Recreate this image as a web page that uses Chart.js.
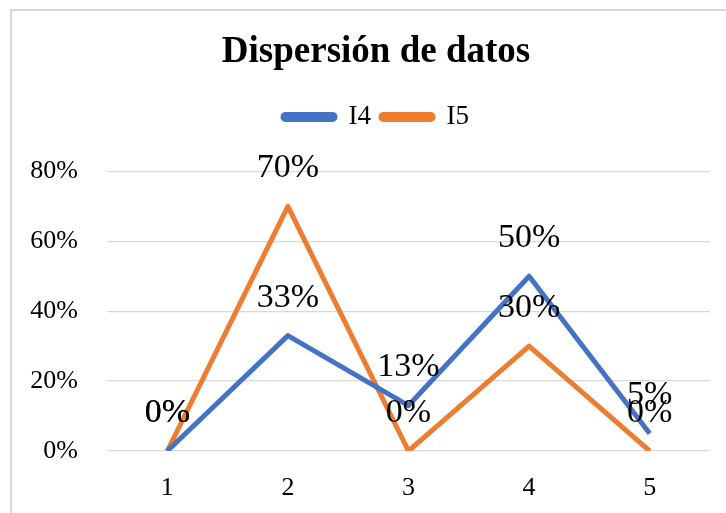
<!DOCTYPE html>
<html>
<head>
<meta charset="utf-8">
<script src="https://cdn.jsdelivr.net/npm/chart.js@4.4.1/dist/chart.umd.min.js"></script>
<style>
  html, body { margin: 0; padding: 0; background: #fff; }
  #wrap { position: relative; width: 726px; height: 513px; overflow: hidden; }
  #frame { position: absolute; left: 10px; top: 9px; width: 800px; height: 600px;
           border-left: 2px solid #d9d9d9; border-top: 2px solid #d9d9d9; box-sizing: border-box; }
  canvas { position: absolute; left: 10px; top: 0; }
</style>
</head>
<body>
<div id="wrap">
  <div id="frame"></div>
  <canvas id="c" width="732" height="513"></canvas>
</div>
<script>
const categories = ['1', '2', '3', '4', '5'];
const seriesI4 = [0, 0.33, 0.13, 0.50, 0.05];
const seriesI5 = [0, 0.70, 0, 0.30, 0];
const yTicks = [0, 0.2, 0.4, 0.6, 0.8];

const SERIF = '"Liberation Serif", "Times New Roman", serif';
const pct = v => Math.round(v * 100) + '%';

// Percentage labels drawn above each point
const valueLabels = {
  id: 'valueLabels',
  afterDatasetsDraw(chart) {
    const ctx = chart.ctx;
    ctx.save();
    ctx.font = '34px ' + SERIF;
    ctx.fillStyle = '#000';
    ctx.textAlign = 'center';
    ctx.textBaseline = 'middle';
    chart.data.datasets.forEach((ds, i) => {
      const meta = chart.getDatasetMeta(i);
      meta.data.forEach((pt, j) => {
        ctx.fillText(pct(ds.data[j]), pt.x, pt.y - 38);
      });
    });
    ctx.restore();
  }
};

new Chart(document.getElementById('c'), {
  type: 'line',
  data: {
    labels: categories,
    datasets: [
      { label: 'I4', data: seriesI4, borderColor: '#4472C4', backgroundColor: '#4472C4',
        borderWidth: 5, pointRadius: 0, borderJoinStyle: 'round', tension: 0 },
      { label: 'I5', data: seriesI5, borderColor: '#ED7D31', backgroundColor: '#ED7D31',
        borderWidth: 5, pointRadius: 0, borderJoinStyle: 'round', tension: 0 }
    ]
  },
  options: {
    responsive: false,
    animation: false,
    layout: { padding: 0 },
    plugins: {
      title: {
        display: true,
        weight: 2000,
        text: 'Dispersión de datos',
        color: '#000',
        font: { family: SERIF, size: 37, weight: 'bold', lineHeight: 1.2 },
        padding: { top: 30, bottom: 19 }
      },
      legend: {
        display: true,
        position: 'top',
        weight: 1800,
        labels: {
          color: '#000',
          font: { family: SERIF, size: 27 },
          boxWidth: 52,
          boxHeight: 5,
          useBorderRadius: true,
          borderRadius: 2.5,
          padding: 10
        }
      },
      // blank spacer between the legend and the plot
      subtitle: {
        display: true,
        weight: 500,
        text: ' ',
        font: { size: 10, lineHeight: 1 },
        padding: { top: 0, bottom: 21 }
      },
      tooltip: { enabled: false }
    },
    scales: {
      x: {
        offset: true,
        grid: { display: false },
        border: { display: false },
        ticks: { color: '#000', font: { family: SERIF, size: 26 }, padding: 14 },
        afterFit(scale) { scale.height = 62; }
      },
      y: {
        min: 0,
        max: 0.8,
        afterBuildTicks(scale) { scale.ticks = yTicks.map(v => ({ value: v })); },
        grid: { color: '#d9d9d9', lineWidth: 1.3, drawTicks: false },
        border: { display: false },
        ticks: { color: '#000', font: { family: SERIF, size: 26 }, padding: 29, callback: v => pct(v) },
        afterFit(scale) { scale.width = 97; }
      },
      // empty margin on the right of the plot
      yRight: {
        type: 'linear',
        axis: 'y',
        position: 'right',
        display: true,
        grid: { display: false, drawTicks: false },
        border: { display: false },
        ticks: { display: false },
        afterFit(scale) { scale.width = 32; }
      }
    }
  },
  plugins: [valueLabels]
});
</script>
</body>
</html>
